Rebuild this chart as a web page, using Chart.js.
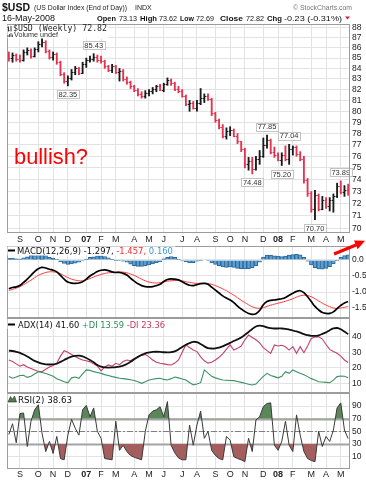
<!DOCTYPE html>
<html>
<head>
<meta charset="utf-8">
<script src="https://cdn.jsdelivr.net/npm/chart.js@4.4.0/dist/chart.umd.min.js"></script>
<style>
  html, body { margin: 0; padding: 0; background: #fff; }
  #wrap { position: relative; width: 366px; height: 480px; overflow: hidden; background: #fff; }
  canvas { position: absolute; left: 0; }
  #notes { position: absolute; left: 0; top: 0; pointer-events: none; }
</style>
</head>
<body>
<div id="wrap">
  <canvas id="priceChart" width="366" height="246" style="top:0px"></canvas>
  <canvas id="macdChart" width="366" height="72" style="top:246px"></canvas>
  <canvas id="adxChart" width="366" height="75" style="top:318px"></canvas>
  <canvas id="rsiChart" width="366" height="87" style="top:393px"></canvas>
  <svg id="notes" width="366" height="480" font-family="'Liberation Sans', Arial, sans-serif">
    <!-- header -->
    <text x="2" y="10.5" font-size="10.5" font-weight="bold" fill="#111">$USD</text>
    <text x="34" y="10" font-size="7" fill="#222" textLength="93" lengthAdjust="spacingAndGlyphs">(US Dollar Index (End of Day))</text>
    <text x="135" y="10" font-size="7" fill="#222">INDX</text>
    <text x="293" y="10" font-size="7" fill="#777" textLength="59" lengthAdjust="spacingAndGlyphs">© StockCharts.com</text>
    <text x="2" y="20.5" font-size="8.5" fill="#111" textLength="53" lengthAdjust="spacingAndGlyphs">16-May-2008</text>
    <g font-size="8" fill="#111" lengthAdjust="spacingAndGlyphs">
      <text x="97" y="20.5" font-weight="bold" textLength="19" lengthAdjust="spacingAndGlyphs">Open</text>
      <text x="119" y="20.5" textLength="18" lengthAdjust="spacingAndGlyphs">73.13</text>
      <text x="140" y="20.5" font-weight="bold" textLength="17" lengthAdjust="spacingAndGlyphs">High</text>
      <text x="159" y="20.5" textLength="18" lengthAdjust="spacingAndGlyphs">73.62</text>
      <text x="180" y="20.5" font-weight="bold" textLength="14" lengthAdjust="spacingAndGlyphs">Low</text>
      <text x="196" y="20.5" textLength="18" lengthAdjust="spacingAndGlyphs">72.69</text>
      <text x="220" y="20.5" font-weight="bold" textLength="23" lengthAdjust="spacingAndGlyphs">Close</text>
      <text x="246" y="20.5" textLength="18" lengthAdjust="spacingAndGlyphs">72.82</text>
      <text x="267" y="20.5" font-weight="bold" textLength="15" lengthAdjust="spacingAndGlyphs">Chg</text>
      <text x="284" y="20.5" textLength="58" lengthAdjust="spacingAndGlyphs">-0.23 (-0.31%)</text>
    </g>
    <polygon points="345,16.5 350,16.5 347.5,19.5" fill="#d02030"/>

    <!-- price panel legend -->
    <rect x="7.5" y="25" width="101" height="13.5" fill="#fff"/>
    <path d="M8.5 26.5v5 M7.5 27.5h1 M8.5 30.5h1 M11 26v5.5" stroke="#333" stroke-width="1" fill="none"/>
    <text x="13" y="30.5" font-family="'DejaVu Sans Mono', monospace" font-size="8" fill="#222" textLength="94" lengthAdjust="spacingAndGlyphs">$USD (Weekly) 72.82</text>
    <path d="M8 37v-2 M9.5 37v-3 M11 37v-4 M12.5 37v-2.5" stroke="#555" stroke-width="1"/>
    <text x="14" y="36.8" font-size="7.5" fill="#333" textLength="44" lengthAdjust="spacingAndGlyphs">Volume undef</text>

    <text x="14" y="164" font-size="22" fill="#ff0000" textLength="74" lengthAdjust="spacingAndGlyphs">bullish?</text>

    <!-- arrow -->
    <line x1="334" y1="254" x2="356" y2="245" stroke="#ff0000" stroke-width="3"/>
    <polygon points="365,240.8 357.6,249.3 354,240.6" fill="#ff0000"/>

    <!-- MACD legend -->
    <rect x="7.5" y="246.5" width="168" height="9" fill="#fff"/>
    <line x1="8" x2="15" y1="250.5" y2="250.5" stroke="#000" stroke-width="2"/>
    <text x="17" y="253.5" font-family="'DejaVu Sans', Verdana, sans-serif" font-size="8.2" fill="#111"
          textLength="156" lengthAdjust="spacingAndGlyphs">MACD(12,26,9) -1.297,<tspan fill="#ff2a2a"> -1.457,</tspan><tspan fill="#3c9ad8"> 0.160</tspan></text>

    <!-- ADX legend -->
    <rect x="7.5" y="319" width="160" height="10" fill="#fff"/>
    <line x1="8" x2="15" y1="324.5" y2="324.5" stroke="#000" stroke-width="2"/>
    <text x="18" y="327.5" font-family="'DejaVu Sans', Verdana, sans-serif" font-size="8.2" fill="#111"
          textLength="147" lengthAdjust="spacingAndGlyphs">ADX(14) 41.60<tspan fill="#2e8b57"> +DI 13.59</tspan><tspan fill="#c8385a"> -DI 23.36</tspan></text>

    <!-- RSI legend -->
    <rect x="7.5" y="394" width="67" height="10" fill="#fff"/>
    <polygon points="8,402 10.5,396.5 12.5,399.5 14.5,396 16.5,402" fill="#4f8050" stroke="#222" stroke-width="0.6"/>
    <text x="18" y="402.5" font-family="'DejaVu Sans', Verdana, sans-serif" font-size="8.4" fill="#111"
          textLength="54" lengthAdjust="spacingAndGlyphs">RSI(2) 38.63</text>
  </svg>
</div>
<script>
// weekly bars, 11-Aug-2006 .. 16-May-2008
const weeks = [
  '2006-08-11','2006-08-18','2006-08-25','2006-09-01','2006-09-08','2006-09-15','2006-09-22','2006-09-29',
  '2006-10-06','2006-10-13','2006-10-20','2006-10-27','2006-11-03','2006-11-10','2006-11-17','2006-11-24',
  '2006-12-01','2006-12-08','2006-12-15','2006-12-22','2006-12-29',
  '2007-01-05','2007-01-12','2007-01-19','2007-01-26','2007-02-02','2007-02-09','2007-02-16','2007-02-23',
  '2007-03-02','2007-03-09','2007-03-16','2007-03-23','2007-03-30','2007-04-06','2007-04-13','2007-04-20',
  '2007-04-27','2007-05-04','2007-05-11','2007-05-18','2007-05-25','2007-06-01','2007-06-08','2007-06-15',
  '2007-06-22','2007-06-29','2007-07-06','2007-07-13','2007-07-20','2007-07-27','2007-08-03','2007-08-10',
  '2007-08-17','2007-08-24','2007-08-31','2007-09-07','2007-09-14','2007-09-21','2007-09-28','2007-10-05',
  '2007-10-12','2007-10-19','2007-10-26','2007-11-02','2007-11-09','2007-11-16','2007-11-23','2007-11-30',
  '2007-12-07','2007-12-14','2007-12-21','2007-12-28',
  '2008-01-04','2008-01-11','2008-01-18','2008-01-25','2008-02-01','2008-02-08','2008-02-15','2008-02-22',
  '2008-02-29','2008-03-07','2008-03-14','2008-03-21','2008-03-28','2008-04-04','2008-04-11','2008-04-18',
  '2008-04-25','2008-05-02','2008-05-09','2008-05-16'
];
// month labels: index of first bar of the month
const tickWeeks = [3, 8, 12, 16, 21, 25, 29, 34, 38, 42, 47, 51, 56, 60, 64, 69, 73, 77, 82, 86, 90];
const tickLabels = ['S','O','N','D','07','F','M','A','M','J','J','A','S','O','N','D','08','F','M','A','M'];

const opens = [
  85.3, 85.0, 85.3, 84.9, 84.8, 85.6, 85.8, 85.2, 85.9, 86.4, 86.6, 85.7, 85.1, 85.4, 84.6, 83.5,
  82.8, 83.1, 83.7, 84.0, 83.6, 84.4, 84.8, 84.9, 85.1, 84.8, 84.7, 84.2, 83.9, 84.2, 83.7, 83.8,
  83.0, 82.7, 82.3, 82.0, 81.6, 81.4, 81.7, 81.9, 82.1, 82.3, 82.0, 82.5, 82.9, 82.6, 82.1, 81.9,
  81.4, 80.7, 80.8, 80.3, 80.8, 81.2, 81.4, 81.1, 79.8, 79.2, 78.6, 77.8, 78.2, 78.3, 77.8, 77.3,
  76.6, 75.3, 75.6, 74.9, 75.8, 76.0, 77.0, 77.4, 76.4, 76.1, 75.7, 76.1, 75.8, 76.6, 76.8, 76.2,
  75.8, 74.0, 72.9, 71.6, 72.7, 71.6, 72.3, 71.8, 72.3, 72.6, 73.5, 73.0, 73.13
];
const highs = [
  85.6, 85.5, 85.4, 85.3, 85.8, 86.0, 85.9, 86.0, 86.6, 87.0, 86.7, 85.8, 85.6, 85.5, 84.7, 83.6,
  83.3, 83.9, 84.2, 84.1, 84.6, 85.0, 85.2, 85.43, 85.3, 85.2, 84.8, 84.3, 84.4, 84.3, 84.0, 83.9,
  83.2, 82.8, 82.4, 82.1, 81.8, 81.9, 82.0, 82.2, 82.4, 82.5, 82.6, 83.1, 83.0, 82.7, 82.3, 82.0,
  81.5, 81.0, 80.9, 81.0, 82.1, 81.6, 81.6, 81.2, 79.9, 79.3, 78.8, 78.5, 78.6, 78.4, 78.0, 77.3,
  76.7, 75.9, 75.9, 76.0, 76.5, 77.6, 77.85, 77.5, 76.8, 76.3, 76.3, 76.9, 77.04, 76.9, 76.9, 76.4,
  76.0, 74.1, 73.0, 73.1, 72.8, 72.6, 72.5, 72.5, 72.8, 73.7, 73.89, 73.5, 73.62
];
const lows = [
  84.7, 84.6, 84.7, 84.6, 84.7, 85.3, 85.0, 85.1, 85.6, 86.1, 85.5, 84.9, 84.8, 84.4, 83.3, 82.6,
  82.35, 82.9, 83.4, 83.4, 83.5, 84.1, 84.6, 84.7, 84.6, 84.5, 84.0, 83.7, 83.6, 83.5, 82.8, 82.8,
  82.5, 82.1, 81.8, 81.4, 81.2, 81.2, 81.4, 81.6, 81.8, 81.9, 81.8, 82.4, 82.4, 81.9, 81.7, 81.3,
  80.5, 80.0, 80.2, 80.0, 80.6, 80.8, 81.0, 79.6, 79.0, 78.4, 77.6, 77.5, 77.8, 77.7, 77.1, 76.4,
  75.0, 74.8, 74.48, 74.8, 75.3, 75.9, 76.7, 76.2, 75.9, 75.6, 75.20, 75.6, 75.3, 76.1, 76.0, 75.6,
  73.7, 72.6, 71.3, 70.70, 71.4, 71.5, 71.6, 71.4, 71.3, 72.5, 72.8, 72.6, 72.69
];
const closes = [
  85.0, 85.3, 84.9, 84.8, 85.6, 85.8, 85.2, 85.9, 86.4, 86.6, 85.7, 85.1, 85.4, 84.6, 83.5, 82.8,
  83.1, 83.7, 84.0, 83.6, 84.4, 84.8, 84.9, 85.1, 84.8, 84.7, 84.2, 83.9, 84.2, 83.7, 83.8, 83.0,
  82.7, 82.3, 82.0, 81.6, 81.4, 81.7, 81.9, 82.1, 82.3, 82.0, 82.5, 82.9, 82.6, 82.1, 81.9, 81.4,
  80.7, 80.8, 80.3, 80.8, 81.2, 81.4, 81.1, 79.8, 79.2, 78.6, 77.8, 78.2, 78.3, 77.8, 77.3, 76.6,
  75.3, 75.6, 74.9, 75.8, 76.0, 77.0, 77.4, 76.4, 76.1, 75.7, 76.1, 75.8, 76.6, 76.8, 76.2, 75.8,
  74.0, 72.9, 71.6, 72.7, 71.6, 72.3, 71.8, 72.3, 72.6, 73.5, 73.0, 73.1, 72.82
];
const priceTicks = [70, 71, 72, 73, 74, 75, 76, 77, 78, 79, 80, 81, 82, 83, 84, 85, 86, 87, 88];

// labelled swing highs / lows
const markWeeks = [16, 23, 66, 70, 74, 76, 83, 90];
const markSides = ['low', 'high', 'low', 'high', 'low', 'high', 'low', 'high'];

// MACD(12,26,9)
const macdLine = [
  -0.90, -0.86, -0.84, -0.80, -0.70, -0.60, -0.48, -0.36, -0.27, -0.23,
  -0.25, -0.29, -0.32, -0.37, -0.48, -0.60, -0.69, -0.72, -0.73, -0.72,
  -0.68, -0.60, -0.50, -0.43, -0.36, -0.32, -0.31, -0.33, -0.37, -0.39,
  -0.39, -0.42, -0.47, -0.57, -0.66, -0.74, -0.80, -0.83, -0.84, -0.83,
  -0.80, -0.76, -0.67, -0.61, -0.59, -0.60, -0.62, -0.68, -0.74, -0.79,
  -0.80, -0.77, -0.74, -0.73, -0.76, -0.85, -0.94, -1.03, -1.12, -1.19,
  -1.25, -1.33, -1.44, -1.53, -1.61, -1.67, -1.70, -1.68, -1.58, -1.40,
  -1.30, -1.26, -1.25, -1.23, -1.21, -1.17, -1.10, -1.04, -0.98, -0.96,
  -1.02, -1.15, -1.30, -1.45, -1.56, -1.64, -1.67, -1.67, -1.62, -1.52,
  -1.42, -1.34, -1.297
];
const signalLine = [
  -0.95, -0.92, -0.88, -0.83, -0.77, -0.70, -0.63, -0.55, -0.48, -0.43,
  -0.39, -0.37, -0.37, -0.39, -0.43, -0.49, -0.55, -0.60, -0.63, -0.65,
  -0.65, -0.62, -0.58, -0.53, -0.49, -0.45, -0.42, -0.40, -0.39, -0.38,
  -0.37, -0.38, -0.40, -0.44, -0.48, -0.54, -0.60, -0.65, -0.69, -0.71,
  -0.72, -0.71, -0.69, -0.66, -0.65, -0.64, -0.64, -0.65, -0.68, -0.70,
  -0.72, -0.73, -0.73, -0.73, -0.74, -0.76, -0.80, -0.85, -0.90, -0.96,
  -1.03, -1.10, -1.18, -1.26, -1.33, -1.40, -1.46, -1.50, -1.51, -1.49,
  -1.45, -1.41, -1.38, -1.35, -1.32, -1.29, -1.25, -1.21, -1.16, -1.12,
  -1.10, -1.11, -1.15, -1.21, -1.28, -1.35, -1.41, -1.46, -1.50, -1.51,
  -1.50, -1.48, -1.457
];
const macdHist = [
  0.05, 0.06, 0.04, 0.03, 0.07, 0.10, 0.15, 0.19, 0.21, 0.20,
  0.14, 0.08, 0.05, 0.02, -0.05, -0.11, -0.14, -0.12, -0.10, -0.07,
  -0.03, 0.02, 0.08, 0.10, 0.13, 0.13, 0.11, 0.07, 0.02, -0.01,
  -0.02, -0.04, -0.07, -0.13, -0.18, -0.20, -0.20, -0.18, -0.15, -0.12,
  -0.08, -0.05, 0.04, 0.08, 0.11, 0.08, 0.02, -0.03, -0.06, -0.09,
  -0.08, -0.04, -0.01, 0.00, -0.02, -0.09, -0.14, -0.18, -0.22, -0.23,
  -0.22, -0.23, -0.26, -0.27, -0.28, -0.27, -0.24, -0.18, -0.07, 0.09,
  0.15, 0.15, 0.13, 0.12, 0.11, 0.12, 0.15, 0.17, 0.18, 0.16,
  0.08, -0.04, -0.15, -0.24, -0.28, -0.29, -0.26, -0.21, -0.12, -0.01,
  0.08, 0.14, 0.16
];
const macdTicks = [0, -0.5, -1, -1.5];

// ADX(14), +DI, -DI
const adxLine = [
  31.0, 30.8, 30.3, 29.6, 28.5, 27.2, 25.8, 24.4, 23.5, 22.6,
  22.2, 22.1, 22.2, 22.6, 23.8, 25.0, 26.2, 27.2, 27.7, 27.8,
  27.3, 26.3, 25.0, 23.5, 21.8, 20.7, 20.2, 20.1, 20.2, 20.4,
  20.8, 21.4, 22.4, 23.8, 25.5, 27.0, 28.3, 29.3, 29.8, 30.2,
  30.3, 30.2, 30.0, 29.9, 30.1, 30.6, 31.8, 33.4, 34.8, 35.9,
  36.7, 36.5, 35.3, 33.8, 32.7, 32.4, 32.5, 32.9, 33.8, 34.9,
  36.0, 37.2, 38.3, 39.5, 41.2, 43.0, 45.0, 46.6, 47.1, 46.8,
  46.0, 45.5, 45.3, 45.3, 45.3, 45.1, 44.6, 44.0, 43.4, 42.6,
  41.7, 41.0, 40.6, 40.5, 40.9, 41.8, 42.8, 44.2, 45.3, 45.6,
  44.8, 43.3, 41.6
];
const plusDI = [
  14.3, 13.3, 14.0, 15.0, 15.2, 13.8, 14.5, 16.0, 17.5, 17.0,
  16.3, 15.5, 14.5, 13.0, 12.0, 11.0, 10.3, 13.5, 14.0, 13.2,
  16.0, 18.6, 18.3, 17.5, 17.0, 16.4, 15.6, 15.0, 14.3, 13.8,
  13.2, 13.0, 12.7, 12.3, 11.8, 11.0, 10.0, 11.0, 12.1, 12.6,
  13.0, 13.2, 12.5, 12.1, 13.0, 14.0, 13.5, 12.8, 12.1, 10.5,
  9.0, 9.5, 10.4, 18.6, 16.5, 14.5, 13.5, 12.8, 12.1, 12.0,
  11.8, 11.7, 11.2, 10.6, 10.0, 9.4, 8.9, 9.5, 12.1, 14.5,
  16.4, 15.0, 14.3, 13.5, 14.5, 17.5, 16.4, 18.6, 17.5, 16.4,
  15.5, 14.3, 13.0, 12.1, 11.0, 10.8, 10.6, 10.4, 12.0, 14.3,
  14.7, 14.5, 13.59
];
const minusDI = [
  25.0, 24.0, 22.5, 21.0, 22.0, 20.5, 19.5, 18.5, 17.6, 17.5,
  19.0, 20.5, 21.5, 23.0, 27.5, 31.0, 30.0, 28.5, 27.2, 26.0,
  25.0, 24.5, 23.8, 22.5, 21.2, 18.0, 20.5, 21.8, 21.0, 22.9,
  22.0, 24.0, 25.0, 24.5, 26.0, 27.0, 28.0, 28.6, 27.0, 25.0,
  23.5, 22.9, 22.5, 22.0, 21.8, 23.0, 25.0, 30.0, 34.7, 33.0,
  31.5, 30.4, 27.0, 24.5, 23.0, 23.5, 25.0, 26.8, 29.0, 32.0,
  34.7, 31.4, 32.5, 34.0, 38.0, 41.1, 39.5, 38.0, 36.0, 33.0,
  31.0, 29.3, 34.7, 34.0, 34.5, 33.5, 31.4, 33.6, 29.3, 33.6,
  29.7, 34.0, 38.9, 39.8, 40.0, 38.5, 35.0, 31.8, 30.5, 29.3,
  27.5, 25.0, 23.36
];
const adxTicks = [10, 20, 30, 40];

// RSI(2)
const rsiLine = [
  45, 62, 32, 78, 79, 26, 66, 84, 92, 47,
  18, 34, 15, 42, 7, 5, 44, 69, 55, 44,
  84, 91, 73, 87, 50, 39, 7, 6, 5, 66,
  20, 28, 18, 12, 9, 7, 5, 50, 76, 82,
  84, 89, 73, 97, 28, 16, 8, 5, 5, 60,
  28, 60, 82, 39, 50, 20, 12, 7, 5, 42,
  36, 10, 7, 5, 2, 39, 18, 68, 73, 89,
  94, 95, 28, 20, 34, 66, 28, 18, 76, 44,
  18, 7, 4, 2, 50, 26, 42, 34, 52, 87,
  95, 52, 38.63
];
const rsiTicks = [10, 30, 50, 70, 90];
const rsiLevels = [30, 50, 70];

Chart.defaults.font.family = '"Liberation Sans", Arial, sans-serif';
Chart.defaults.font.size = 9;
Chart.defaults.color = '#222';

const gridColor = '#e3e3e3';
const downColor = '#e3334f';
const upColor = '#1a1a1a';

function xAxis(labelHeight, pad) {
  return {
    offset: true,
    grid: {
      offset: false, drawTicks: false,
      color: c => tickWeeks.includes(c.index) ? gridColor : 'rgba(0,0,0,0)'
    },
    border: { display: false },
    ticks: {
      display: labelHeight > 0, autoSkip: false, maxRotation: 0, minRotation: 0, padding: pad,
      callback: (v, i) => { const k = tickWeeks.indexOf(i); return k < 0 ? '' : tickLabels[k]; },
      font: c => ({ size: 9, weight: /\d/.test(c.tick ? c.tick.label : '') ? 'bold' : 'normal' })
    },
    afterFit: s => { s.height = labelHeight; s.paddingLeft = 0; s.paddingRight = 0; }
  };
}

function yAxis(type, min, max, tickList, fmt) {
  return {
    type: type, position: 'right', min: min, max: max,
    afterBuildTicks: s => { s.ticks = tickList.map(v => ({ value: v })); },
    grid: { color: gridColor, drawTicks: false },
    border: { display: false },
    ticks: { autoSkip: false, padding: 2, font: { size: 8.5 }, color: '#222', callback: fmt },
    afterFit: s => { s.width = 16; s.paddingTop = 0; s.paddingBottom = 0; }
  };
}

const baseOptions = () => ({
  responsive: false, animation: false, events: [],
  plugins: { legend: { display: false }, tooltip: { enabled: false } }
});

// panel border
const frame = {
  id: 'frame',
  afterDraw(chart) {
    const { ctx, chartArea: a } = chart;
    ctx.save();
    ctx.strokeStyle = '#9c9c9c';
    ctx.lineWidth = 1;
    ctx.strokeRect(Math.round(a.left) + 0.5, Math.round(a.top) + 0.5,
      Math.round(a.right - a.left) - 1, Math.round(a.bottom - a.top) - 1);
    ctx.restore();
  }
};

// open tick on the left, close tick on the right of each bar
const ohlcTicks = {
  id: 'ohlcTicks',
  afterDatasetsDraw(chart) {
    const { ctx, scales: { x, y } } = chart;
    ctx.save();
    ctx.lineWidth = 1;
    opens.forEach((o, i) => {
      const px = x.getPixelForValue(i);
      const yo = Math.round(y.getPixelForValue(o)) + 0.5;
      const yc = Math.round(y.getPixelForValue(closes[i])) + 0.5;
      ctx.strokeStyle = closes[i] < o ? downColor : upColor;
      ctx.beginPath();
      ctx.moveTo(px - 1.6, yo); ctx.lineTo(px, yo);
      ctx.moveTo(px, yc); ctx.lineTo(px + 1.6, yc);
      ctx.stroke();
    });
    ctx.restore();
  }
};

// small boxed value labels at swing highs / lows
const priceMarks = {
  id: 'priceMarks',
  afterDatasetsDraw(chart) {
    const { ctx, scales: { x, y } } = chart;
    ctx.save();
    ctx.font = '7.5px "Liberation Sans", Arial, sans-serif';
    ctx.textAlign = 'center';
    ctx.textBaseline = 'middle';
    markWeeks.forEach((i, k) => {
      const isHigh = markSides[k] === 'high';
      const v = isHigh ? highs[i] : lows[i];
      const px = x.getPixelForValue(i);
      const py = y.getPixelForValue(v);
      const text = v.toFixed(2);
      const w = Math.round(ctx.measureText(text).width) + 3;
      const h = 8;
      const cy = isHigh ? py - 8.5 : py + 8.5;
      const bx = Math.round(px - w / 2) + 0.5, by = Math.round(cy - h / 2) + 0.5;
      ctx.fillStyle = '#fff';
      ctx.strokeStyle = '#c4c4c4';
      ctx.fillRect(bx, by, w, h);
      ctx.strokeRect(bx, by, w, h);
      ctx.fillStyle = '#333';
      ctx.fillText(text, px, cy + 0.5);
    });
    ctx.restore();
  }
};

// RSI 30 / 50 / 70 guide lines
const rsiGuides = {
  id: 'rsiGuides',
  beforeDatasetsDraw(chart) {
    const { ctx, chartArea: a, scales: { y } } = chart;
    ctx.save();
    rsiLevels.forEach(v => {
      const py = Math.round(y.getPixelForValue(v)) + 0.5;
      ctx.beginPath();
      if (v === 50) { ctx.setLineDash([6, 2, 2, 2]); ctx.lineWidth = 1; ctx.strokeStyle = '#808080'; }
      else { ctx.setLineDash([]); ctx.lineWidth = 2; ctx.strokeStyle = '#a4a4a4'; }
      ctx.moveTo(a.left, py); ctx.lineTo(a.right, py);
      ctx.stroke();
    });
    ctx.restore();
  }
};

// price panel
new Chart(document.getElementById('priceChart'), {
  type: 'bar',
  data: {
    labels: weeks,
    datasets: [{
      data: weeks.map((w, i) => [lows[i], highs[i]]),
      backgroundColor: weeks.map((w, i) => closes[i] < opens[i] ? downColor : upColor),
      barThickness: 1.2,
      borderWidth: 0
    }]
  },
  options: Object.assign(baseOptions(), {
    layout: { padding: { top: 24, left: 7, right: 0, bottom: 0 }, autoPadding: false },
    scales: {
      x: xAxis(13, 1.5),
      y: yAxis('logarithmic', 69.63, 88.37, priceTicks, v => String(v))
    }
  }),
  plugins: [ohlcTicks, priceMarks, frame]
});

// MACD panel
new Chart(document.getElementById('macdChart'), {
  type: 'bar',
  data: {
    labels: weeks,
    datasets: [
      { type: 'line', data: macdLine, borderColor: '#000', borderWidth: 1.7, pointRadius: 0, tension: 0.4, order: 1 },
      { type: 'line', data: signalLine, borderColor: '#ff3b3b', borderWidth: 1, pointRadius: 0, tension: 0.4, order: 2 },
      { type: 'bar', data: macdHist, backgroundColor: '#5c9fd2', borderColor: '#2c6898', borderWidth: 1,
        barPercentage: 1, categoryPercentage: 1, order: 3 }
    ]
  },
  options: Object.assign(baseOptions(), {
    layout: { padding: { top: 0, left: 7, right: 0, bottom: 0 }, autoPadding: false },
    scales: {
      x: xAxis(0, 0),
      y: yAxis('linear', -1.8125, 0.4375, macdTicks, v => v.toFixed(1))
    }
  }),
  plugins: [frame]
});

// ADX panel
new Chart(document.getElementById('adxChart'), {
  type: 'line',
  data: {
    labels: weeks,
    datasets: [
      { data: adxLine, borderColor: '#111', borderWidth: 1.8, pointRadius: 0, tension: 0.3, order: 1 },
      { data: plusDI, borderColor: '#3a9262', borderWidth: 1.1, pointRadius: 0, tension: 0, order: 2 },
      { data: minusDI, borderColor: '#c4406a', borderWidth: 1.1, pointRadius: 0, tension: 0, order: 3 }
    ]
  },
  options: Object.assign(baseOptions(), {
    layout: { padding: { top: 0, left: 7, right: 0, bottom: 0 }, autoPadding: false },
    scales: {
      x: xAxis(0, 0),
      y: yAxis('linear', 3.75, 52.05, adxTicks, v => String(v))
    }
  }),
  plugins: [frame]
});

// RSI panel
new Chart(document.getElementById('rsiChart'), {
  type: 'line',
  data: {
    labels: weeks,
    datasets: [
      { data: rsiLine, borderColor: '#3a3a3a', borderWidth: 1, pointRadius: 0, tension: 0, fill: false, order: 1 },
      { data: rsiLine, borderWidth: 0, borderColor: 'rgba(0,0,0,0)', pointRadius: 0, tension: 0, order: 2,
        fill: { target: { value: 70 }, above: '#5a865a', below: 'rgba(0,0,0,0)' } },
      { data: rsiLine, borderWidth: 0, borderColor: 'rgba(0,0,0,0)', pointRadius: 0, tension: 0, order: 3,
        fill: { target: { value: 30 }, above: 'rgba(0,0,0,0)', below: '#a55e5e' } }
    ]
  },
  options: Object.assign(baseOptions(), {
    layout: { padding: { top: 0, left: 7, right: 0, bottom: 0 }, autoPadding: false },
    scales: {
      x: xAxis(11, 0),
      y: yAxis('linear', -9.5, 110.6, rsiTicks, v => String(v))
    }
  }),
  plugins: [rsiGuides, frame]
});
</script>
</body>
</html>
